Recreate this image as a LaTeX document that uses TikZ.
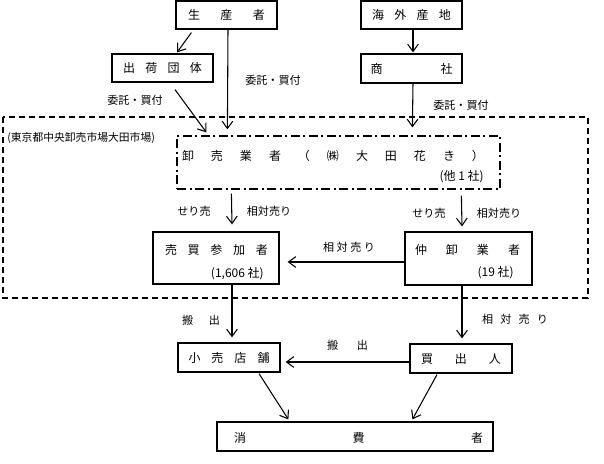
\documentclass[tikz,border=0pt]{standalone}
\usepackage{fontspec}
\setmainfont{Noto Sans CJK JP}
\usetikzlibrary{arrows.meta,calc}
\newcommand{\spreadtxt}[2]{\makebox[\dimexpr #1pt*3/4\relax]{#2}}
\newcommand{\boxfont}{\fontsize{9}{11}\selectfont}
\newcommand{\lblfont}{\fontsize{8.3}{10}\selectfont}
\newcommand{\regionfont}{\fontsize{8.1}{9}\selectfont}
\tikzset{
  box/.style={draw, line width=0.9pt, inner sep=0pt, font=\boxfont},
  ddbox/.style={draw, line width=0.9pt, inner sep=0pt, dash pattern=on 7pt off 2.5pt on 1.5pt off 2.5pt},
  region/.style={draw, line width=0.9pt, dash pattern=on 4.5pt off 3pt},
  txt/.style={inner sep=0pt, font=\boxfont},
  lbl/.style={inner sep=0pt, font=\lblfont},
  arr/.style={line width=0.8pt, -{Straight Barb[length=5.5pt,width=8pt,line width=0.8pt]}},
}
\begin{document}
\begin{tikzpicture}[x=0.75pt,y=-0.75pt]
\useasboundingbox (0,0) rectangle (604,464);

% region
\draw[region] (3,117) rectangle (588,298);
\node[inner sep=0pt, anchor=west, font=\regionfont] (regionlbl) at (7,138) {(東京都中央卸売市場大田市場)};

% boxes
\node[box, minimum width=101*0.75pt, minimum height=28*0.75pt] (prod) at (226.5,15) {\spreadtxt{77}{生\hfill 産\hfill 者}};
\node[box, minimum width=101*0.75pt, minimum height=28*0.75pt] (kaigai) at (411.5,15) {\spreadtxt{79}{海\hfill 外\hfill 産\hfill 地}};
\node[box, minimum width=101*0.75pt, minimum height=28*0.75pt] (shukka) at (162.5,68) {\spreadtxt{79}{出\hfill 荷\hfill 団\hfill 体}};
\node[box, minimum width=101*0.75pt, minimum height=29*0.75pt] (shosha) at (411.5,68.5) {\spreadtxt{82}{商\hfill 社}};

\node[ddbox, minimum width=323*0.75pt, minimum height=53*0.75pt] (oroshi) at (338.5,162.5) {};
\node[txt] (oroshit) at (333,156) {\spreadtxt{302}{卸\hfill 売\hfill 業\hfill 者\hfill （\hfill ㈱\hfill 大\hfill 田\hfill 花\hfill き\hfill ）}};
\node[txt, anchor=east] (oroshin) at (484,177) {(他 1 社)};

\node[box, minimum width=126*0.75pt, minimum height=52*0.75pt] (baibai) at (216,258) {};
\node[txt] (baibait) at (216.5,250) {\spreadtxt{103}{売\hfill 買\hfill 参\hfill 加\hfill 者}};
\node[txt, anchor=east] (baibain) at (264,274) {(1,606 社)};

\node[box, minimum width=127*0.75pt, minimum height=53*0.75pt] (naka) at (468.5,258.5) {};
\node[txt] (nakat) at (467.5,250) {\spreadtxt{105}{仲\hfill 卸\hfill 業\hfill 者}};
\node[txt, anchor=east] (nakan) at (514,273) {(19 社)};

\node[box, minimum width=102*0.75pt, minimum height=29*0.75pt] (kouri) at (229,357.5) {\spreadtxt{81}{小\hfill 売\hfill 店\hfill 舗}};
\node[box, minimum width=102*0.75pt, minimum height=29*0.75pt] (kaidashi) at (461,358.5) {\spreadtxt{80}{買\hfill 出\hfill 人}};
\node[box, minimum width=276*0.75pt, minimum height=29*0.75pt] (shohi) at (355,436.5) {};
\node[txt] (shohit) at (358.5,438) {\spreadtxt{249}{消\hfill 費\hfill 者}};

% labels
\node[lbl] (l1) at (273,80) {委託・買付};
\node[lbl] (l2) at (135,100) {委託・買付};
\node[lbl] (l3) at (461,105) {委託・買付};
\node[lbl] (l4) at (194,211) {せり売};
\node[lbl] (l5) at (269,211) {相対売り};
\node[lbl] (l6) at (429,213) {せり売};
\node[lbl] (l7) at (499,213) {相対売り};
\node[lbl] (l8) at (349,247) {\spreadtxt{52}{相\hfill 対\hfill 売\hfill り}};
\node[lbl] (l9) at (201,320) {\spreadtxt{38}{搬\hfill 出}};
\node[lbl] (l10) at (515,319) {\spreadtxt{66}{相\hfill 対\hfill 売\hfill り}};
\node[lbl] (l11) at (347.5,345) {\spreadtxt{41}{搬\hfill 出}};

% arrows
\draw[arr] ($(prod.south west)+(16,3)$) -- ($(shukka.north)+(14.5,-1)$);
\draw[arr] ($(prod.south)+(1.5,0)$) -- ($(oroshi.north west)+(51,-6)$);
\draw[arr] ($(kaigai.south)+(1.5,0)$) -- ($(shosha.north)+(1.5,-1)$);
\draw[arr] ($(shukka.south)+(12.5,7)$) -- ($(oroshi.north west)+(30,-3)$);
\draw[arr] ($(shosha.south)+(1.5,0)$) -- ($(oroshi.north west)+(236,-8)$);
\draw[arr] ($(oroshi.south west)+(55,4)$) -- ($(baibai.north)+(16,-7)$);
\draw[arr] ($(oroshi.south west)+(285,6)$) -- ($(naka.north)+(-6.5,-5)$);
\draw[arr] ($(naka.west)+(0,3.5)$) -- ($(baibai.east)+(8,4)$);
\draw[arr] ($(baibai.south)+(16,0)$) -- ($(kouri.north)+(3,-5)$);
\draw[arr] ($(naka.south)+(-6.5,0)$) -- ($(kaidashi.north)+(1,-5)$);
\draw[arr] ($(kaidashi.west)+(0,3.5)$) -- ($(kouri.east)+(5,4.5)$);
\draw[arr] ($(kouri.south)+(30,1)$) -- ($(shohi.north west)+(72,-2)$);
\draw[arr] ($(kaidashi.south)+(-24,1)$) -- ($(shohi.north west)+(196,-2)$);
\end{tikzpicture}
\end{document}
